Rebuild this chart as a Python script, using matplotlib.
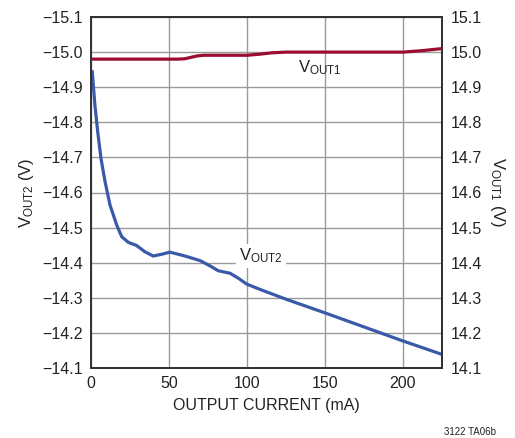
import numpy as np
import matplotlib.pyplot as plt

plt.rcParams['font.family'] = ['Liberation Sans Narrow', 'Liberation Sans', 'DejaVu Sans']
plt.rcParams['mathtext.default'] = 'regular'

# VOUT1 (right axis, positive)
i_out1 = [0, 30, 56, 60, 64, 68, 72, 100, 108, 116, 125, 150, 175, 200, 212, 225]
v_out1 = [14.98, 14.98, 14.98, 14.981, 14.985, 14.989, 14.991, 14.991, 14.994, 14.998, 15.0,
          15.0, 15.0, 15.0, 15.004, 15.01]

# VOUT2 (left axis, negative)
i_out2 = [0.8, 2.5, 4.3, 6.4, 9.0, 12.2, 16.5, 19.7, 23.9, 29.2, 34.6, 39.9, 45.3, 50.6,
          56, 60.3, 69.9, 76.3, 81.6, 89.1, 94.4, 99.8, 108.3, 125, 150, 175, 200, 224.8]
v_out2 = [-14.944, -14.849, -14.773, -14.697, -14.631, -14.564, -14.507, -14.474, -14.458,
          -14.449, -14.431, -14.419, -14.424, -14.430, -14.424, -14.419, -14.406, -14.391,
          -14.377, -14.370, -14.356, -14.339, -14.324, -14.296, -14.257, -14.217, -14.177,
          -14.139]

left_ticks = [-15.1, -15.0, -14.9, -14.8, -14.7, -14.6, -14.5, -14.4, -14.3, -14.2, -14.1]
x_ticks = [0, 50, 100, 150, 200]

red = '#9b0d2f'
blue = '#3a59a8'
frame = '#333333'

fig = plt.figure(figsize=(5.15, 4.38), dpi=100)
ax = fig.add_axes([91 / 515, 70 / 438, 351 / 515, 351 / 438])
ax2 = ax.twinx()

ax.plot(i_out2, v_out2, color=blue, lw=2.3, solid_joinstyle='round', zorder=3)
ax2.plot(i_out1, v_out1, color=red, lw=2.3, solid_joinstyle='round', zorder=3)

ax.set_xlim(0, 225)
ax.set_ylim(-14.1, -15.1)
ax2.set_ylim(14.1, 15.1)
ax.set_xticks(x_ticks)
ax.set_yticks(left_ticks)
ax.set_yticklabels([('%.1f' % v).replace('-', '\u2212') for v in left_ticks])
ax2.set_yticks([abs(v) for v in left_ticks])
ax2.set_yticklabels(['%.1f' % abs(v) for v in left_ticks])

ax.grid(True, color='#9a9a9a', lw=1.0)
ax.set_axisbelow(True)
for a in (ax, ax2):
    a.tick_params(length=0, labelsize=11.5, colors='#222222', pad=6)
    for s in a.spines.values():
        s.set_color(frame)
        s.set_linewidth(1.4)

ax.set_xlabel('OUTPUT CURRENT (mA)', fontsize=11.5, color='#222222', labelpad=5)
ax.set_ylabel('V$_{OUT2}$ (V)', fontsize=12, color='#222222', labelpad=4)
ax2.set_ylabel('V$_{OUT1}$ (V)', fontsize=12, color='#222222', rotation=-90, labelpad=18)

ax.text(147, -14.955, 'V$_{OUT1}$', fontsize=12, color='#222222', ha='center', va='center', zorder=4)
ax.text(109, -14.419, 'V$_{OUT2}$', fontsize=12, color='#222222', ha='center', va='center', zorder=4,
        bbox=dict(facecolor='white', edgecolor='none', pad=2))

fig.text(470 / 515, 1 - 432 / 438, '3122 TA06b', fontsize=7, color='#222222', ha='center', va='center')

fig.savefig('out.png', dpi=100)
